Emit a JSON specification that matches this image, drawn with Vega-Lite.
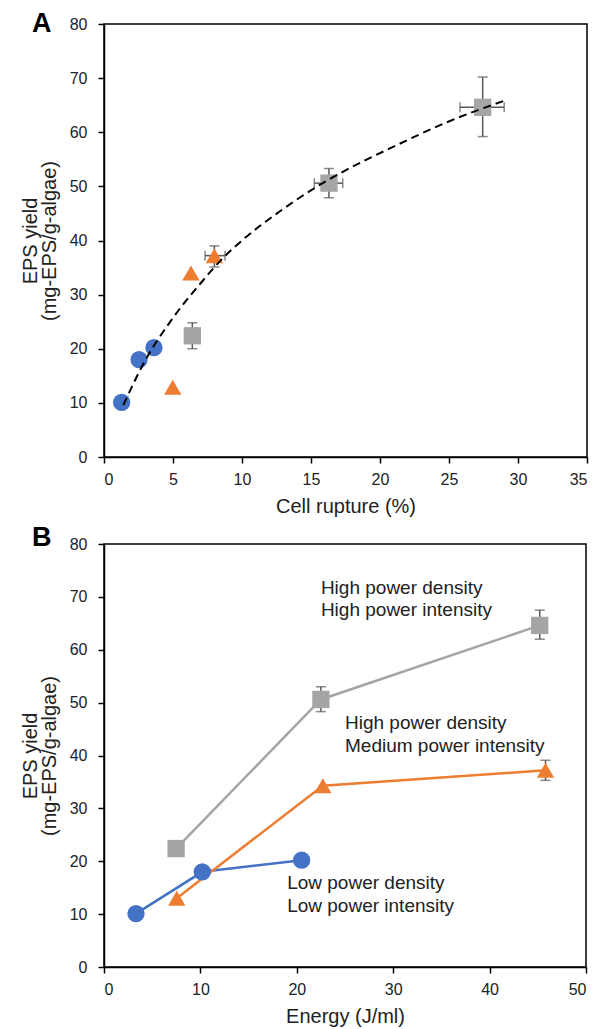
{
  "$schema": "https://vega.github.io/schema/vega-lite/v6.json",
  "padding": {"left": 19, "top": 9, "right": 10, "bottom": 0},
  "spacing": 6,
  "config": {
    "font": "Liberation Sans",
    "view": {"stroke": "#000", "strokeWidth": 1.5},
    "axis": {"grid": false, "domainColor": "#000", "domainWidth": 1.5, "tickColor": "#000", "tickWidth": 1.5, "tickSize": 6, "labelFont": "Liberation Sans", "labelFontSize": 16, "labelColor": "#222", "titleFont": "Liberation Sans", "titleFontSize": 20, "titleFontWeight": "normal", "titleColor": "#222", "titleLineHeight": 19},
    "axisX": {"labelPadding": 8, "titlePadding": 9},
    "axisY": {"labelPadding": 11, "titlePadding": 10},
    "title": {"fontSize": 27, "fontWeight": "bold", "anchor": "start", "frame": "group", "color": "#000"}
  },
  "datasets": {
    "ptsA": [
      {"s": "Low", "x": 1.28, "y": 10.1}, {"s": "Low", "x": 2.54, "y": 18.0}, {"s": "Low", "x": 3.62, "y": 20.2},
      {"s": "Med", "x": 4.98, "y": 12.9}, {"s": "Med", "x": 6.3, "y": 34.0}, {"s": "Med", "x": 8.0, "y": 37.2},
      {"s": "High", "x": 6.4, "y": 22.4}, {"s": "High", "x": 16.3, "y": 50.6}, {"s": "High", "x": 27.44, "y": 64.6}
    ],
    "yerrA": [
      {"x": 6.4, "lo": 20.0, "hi": 24.8}, {"x": 16.3, "lo": 47.9, "hi": 53.3}, {"x": 27.44, "lo": 59.2, "hi": 70.2}, {"x": 8.0, "lo": 35.1, "hi": 39.0}
    ],
    "xerrA": [
      {"y": 50.6, "lo": 15.24, "hi": 17.3}, {"y": 64.6, "lo": 25.8, "hi": 29.0}, {"y": 37.2, "lo": 7.32, "hi": 8.77}
    ],
    "curveA": [
      {"x": 1.4, "y": 9.6}, {"x": 3.0, "y": 17.9}, {"x": 4.8, "y": 25.0}, {"x": 7.0, "y": 32.1}, {"x": 8.6, "y": 36.7}, {"x": 10.0, "y": 40.0},
      {"x": 12.75, "y": 45.4}, {"x": 15.2, "y": 49.6}, {"x": 16.6, "y": 51.7}, {"x": 21.2, "y": 57.6}, {"x": 24.8, "y": 61.8}, {"x": 29.2, "y": 66.0}
    ],
    "ptsB": [
      {"s": "Low", "x": 3.32, "y": 10.1}, {"s": "Low", "x": 10.2, "y": 18.0}, {"s": "Low", "x": 20.5, "y": 20.2},
      {"s": "Med", "x": 7.55, "y": 13.0}, {"s": "Med", "x": 22.7, "y": 34.3}, {"s": "Med", "x": 45.8, "y": 37.2},
      {"s": "High", "x": 7.48, "y": 22.4}, {"s": "High", "x": 22.5, "y": 50.6}, {"s": "High", "x": 45.2, "y": 64.6}
    ],
    "yerrB": [
      {"x": 45.8, "lo": 35.3, "hi": 39.1}, {"x": 22.5, "lo": 48.3, "hi": 53.0}, {"x": 45.2, "lo": 62.0, "hi": 67.5}
    ],
    "textB": [
      {"x": 22.5, "y": 71.7, "t": "High power density"}, {"x": 22.5, "y": 67.5, "t": "High power intensity"},
      {"x": 25.0, "y": 46.1, "t": "High power density"}, {"x": 25.0, "y": 41.8, "t": "Medium power intensity"},
      {"x": 19.0, "y": 15.8, "t": "Low power density"}, {"x": 19.0, "y": 11.5, "t": "Low power intensity"}
    ]
  },
  "vconcat": [
    {
      "width": 483,
      "height": 433,
      "title": {"text": "A", "dx": -72, "offset": -22},
      "layer": [
        {
          "data": {"name": "yerrA"},
          "mark": {"type": "rule", "color": "#595959", "strokeWidth": 1.5},
          "encoding": {
            "x": {"field": "x", "type": "quantitative", "title": "Cell rupture (%)", "scale": {"domain": [0, 35], "nice": false}, "axis": {"values": [0, 5, 10, 15, 20, 25, 30, 35]}},
            "y": {"field": "lo", "type": "quantitative", "title": ["EPS yield", "(mg-EPS/g-algae)"], "scale": {"domain": [0, 80], "nice": false}, "axis": {"values": [0, 10, 20, 30, 40, 50, 60, 70, 80]}},
            "y2": {"field": "hi"}
          }
        },
        {
          "data": {"name": "yerrA"},
          "mark": {"type": "tick", "color": "#595959", "orient": "horizontal", "size": 10, "thickness": 1.5},
          "encoding": {
            "x": {"field": "x", "type": "quantitative", "title": "Cell rupture (%)"},
            "y": {"field": "lo", "type": "quantitative", "title": ["EPS yield", "(mg-EPS/g-algae)"]}
          }
        },
        {
          "data": {"name": "yerrA"},
          "mark": {"type": "tick", "color": "#595959", "orient": "horizontal", "size": 10, "thickness": 1.5},
          "encoding": {
            "x": {"field": "x", "type": "quantitative", "title": "Cell rupture (%)"},
            "y": {"field": "hi", "type": "quantitative", "title": ["EPS yield", "(mg-EPS/g-algae)"]}
          }
        },
        {
          "data": {"name": "xerrA"},
          "mark": {"type": "rule", "color": "#595959", "strokeWidth": 1.5},
          "encoding": {
            "x": {"field": "lo", "type": "quantitative", "title": "Cell rupture (%)"},
            "x2": {"field": "hi"},
            "y": {"field": "y", "type": "quantitative", "title": ["EPS yield", "(mg-EPS/g-algae)"]}
          }
        },
        {
          "data": {"name": "xerrA"},
          "mark": {"type": "tick", "color": "#595959", "orient": "vertical", "size": 10, "thickness": 1.5},
          "encoding": {
            "x": {"field": "lo", "type": "quantitative", "title": "Cell rupture (%)"},
            "y": {"field": "y", "type": "quantitative", "title": ["EPS yield", "(mg-EPS/g-algae)"]}
          }
        },
        {
          "data": {"name": "xerrA"},
          "mark": {"type": "tick", "color": "#595959", "orient": "vertical", "size": 10, "thickness": 1.5},
          "encoding": {
            "x": {"field": "hi", "type": "quantitative", "title": "Cell rupture (%)"},
            "y": {"field": "y", "type": "quantitative", "title": ["EPS yield", "(mg-EPS/g-algae)"]}
          }
        },
        {
          "data": {"name": "ptsA"},
          "mark": {"type": "point", "filled": true, "opacity": 1},
          "encoding": {
            "x": {"field": "x", "type": "quantitative", "title": "Cell rupture (%)"},
            "y": {"field": "y", "type": "quantitative", "title": ["EPS yield", "(mg-EPS/g-algae)"]},
            "color": {"field": "s", "type": "nominal", "scale": {"domain": ["Low", "Med", "High"], "range": ["#4472C4", "#ED7D31", "#A5A5A5"]}, "legend": null},
            "shape": {"field": "s", "type": "nominal", "scale": {"domain": ["Low", "Med", "High"], "range": ["circle", "triangle-up", "square"]}, "legend": null},
            "size": {"field": "s", "type": "nominal", "scale": {"domain": ["Low", "Med", "High"], "range": [300, 300, 320]}, "legend": null}
          }
        },
        {
          "data": {"name": "curveA"},
          "mark": {"type": "line", "color": "#000", "strokeWidth": 2, "strokeDash": [8, 5], "interpolate": "monotone"},
          "encoding": {
            "x": {"field": "x", "type": "quantitative", "title": "Cell rupture (%)"},
            "y": {"field": "y", "type": "quantitative", "title": ["EPS yield", "(mg-EPS/g-algae)"]}
          }
        }
      ]
    },
    {
      "width": 482,
      "height": 423,
      "title": {"text": "B", "dx": -72, "offset": -16},
      "layer": [
        {
          "data": {"name": "ptsB"},
          "mark": {"type": "line", "strokeWidth": 2.5},
          "encoding": {
            "x": {"field": "x", "type": "quantitative", "title": "Energy (J/ml)", "scale": {"domain": [0, 50], "nice": false}, "axis": {"values": [0, 10, 20, 30, 40, 50]}},
            "y": {"field": "y", "type": "quantitative", "title": ["EPS yield", "(mg-EPS/g-algae)"], "scale": {"domain": [0, 80], "nice": false}, "axis": {"values": [0, 10, 20, 30, 40, 50, 60, 70, 80]}},
            "color": {"field": "s", "type": "nominal", "scale": {"domain": ["Low", "Med", "High"], "range": ["#4472C4", "#ED7D31", "#A5A5A5"]}, "legend": null},
            "order": {"field": "x", "type": "quantitative"}
          }
        },
        {
          "data": {"name": "yerrB"},
          "mark": {"type": "rule", "color": "#595959", "strokeWidth": 1.5},
          "encoding": {
            "x": {"field": "x", "type": "quantitative", "title": "Energy (J/ml)"},
            "y": {"field": "lo", "type": "quantitative", "title": ["EPS yield", "(mg-EPS/g-algae)"]},
            "y2": {"field": "hi"}
          }
        },
        {
          "data": {"name": "yerrB"},
          "mark": {"type": "tick", "color": "#595959", "orient": "horizontal", "size": 10, "thickness": 1.5},
          "encoding": {
            "x": {"field": "x", "type": "quantitative", "title": "Energy (J/ml)"},
            "y": {"field": "lo", "type": "quantitative", "title": ["EPS yield", "(mg-EPS/g-algae)"]}
          }
        },
        {
          "data": {"name": "yerrB"},
          "mark": {"type": "tick", "color": "#595959", "orient": "horizontal", "size": 10, "thickness": 1.5},
          "encoding": {
            "x": {"field": "x", "type": "quantitative", "title": "Energy (J/ml)"},
            "y": {"field": "hi", "type": "quantitative", "title": ["EPS yield", "(mg-EPS/g-algae)"]}
          }
        },
        {
          "data": {"name": "ptsB"},
          "mark": {"type": "point", "filled": true, "opacity": 1},
          "encoding": {
            "x": {"field": "x", "type": "quantitative", "title": "Energy (J/ml)"},
            "y": {"field": "y", "type": "quantitative", "title": ["EPS yield", "(mg-EPS/g-algae)"]},
            "color": {"field": "s", "type": "nominal", "scale": {"domain": ["Low", "Med", "High"], "range": ["#4472C4", "#ED7D31", "#A5A5A5"]}, "legend": null},
            "shape": {"field": "s", "type": "nominal", "scale": {"domain": ["Low", "Med", "High"], "range": ["circle", "triangle-up", "square"]}, "legend": null},
            "size": {"field": "s", "type": "nominal", "scale": {"domain": ["Low", "Med", "High"], "range": [270, 290, 290]}, "legend": null}
          }
        },
        {
          "data": {"name": "textB"},
          "mark": {"type": "text", "align": "left", "baseline": "middle", "fontSize": 19, "color": "#222"},
          "encoding": {
            "x": {"field": "x", "type": "quantitative", "title": "Energy (J/ml)"},
            "y": {"field": "y", "type": "quantitative", "title": ["EPS yield", "(mg-EPS/g-algae)"]},
            "text": {"field": "t"}
          }
        }
      ]
    }
  ]
}
